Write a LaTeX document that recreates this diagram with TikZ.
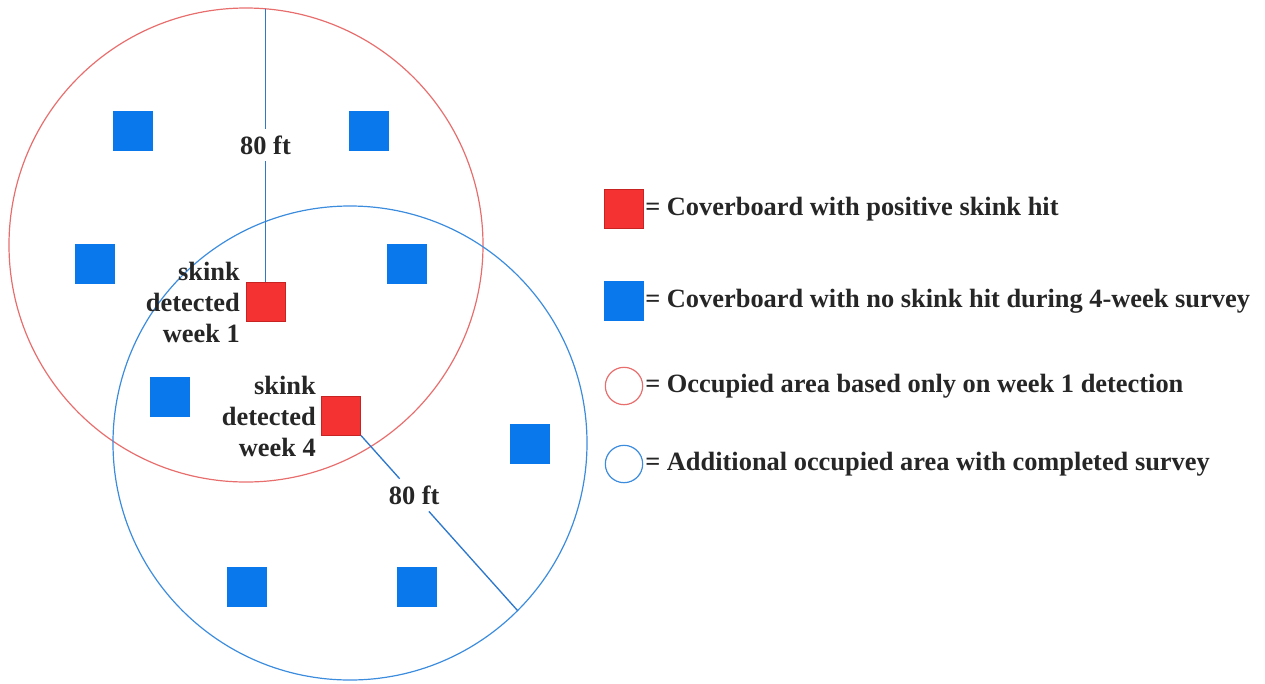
\documentclass[tikz,border=0pt]{standalone}
\usepackage{fontspec}
\setmainfont{Liberation Serif}[BoldFont={Liberation Serif Bold}]
\newfontfamily\lserifbf{Liberation Serif Bold}
\usetikzlibrary{calc}
\definecolor{bsqc}{RGB}{8,120,236}
\definecolor{rsqc}{RGB}{245,50,50}
\definecolor{rsqd}{RGB}{200,35,35}
\definecolor{rcirc}{RGB}{232,110,110}
\definecolor{bcirc}{RGB}{60,140,222}
\definecolor{radc}{RGB}{45,120,205}
\tikzset{
  bsq/.style={rectangle,fill=bsqc,draw=bsqc,line width=0.4pt,minimum size=29.25pt,inner sep=0pt},
  rsq/.style={rectangle,fill=rsqc,draw=rsqd,line width=0.75pt,minimum size=29.25pt,inner sep=0pt},
  redring/.style={draw=rcirc,line width=0.9pt},
  bluering/.style={draw=bcirc,line width=0.9pt},
  radline/.style={draw=radc,line width=1pt},
  lbl/.style={font=\lserifbf\fontsize{19.8pt}{23.25pt}\selectfont,text=black!85},
  rlbl/.style={lbl,align=right,anchor=east,inner sep=0pt},
  dist/.style={lbl,inner sep=5pt},
  legtxt/.style={lbl,anchor=west,inner sep=0pt}
}
\begin{document}
\begin{tikzpicture}[x=0.75pt,y=-0.75pt]
\useasboundingbox (0,0) rectangle (1265,683);
% circles
\coordinate (Rc) at (246,245);
\coordinate (Bc) at (350,443);
\draw[redring] (Rc) circle[radius=177.75pt];
\draw[bluering] (Bc) circle[radius=177.75pt];
% coverboards
\node[bsq] (b1) at (132.5,131) {};
\node[bsq] (b2) at (369,131) {};
\node[bsq] (b3) at (95,264) {};
\node[bsq] (b4) at (407,264) {};
\node[bsq] (b5) at (170,396.5) {};
\node[bsq] (b6) at (530,443.5) {};
\node[bsq] (b7) at (246.5,586.5) {};
\node[bsq] (b8) at (417,586.5) {};
\node[rsq] (r1) at (265.5,302) {};
\node[rsq] (r2) at (341,415.5) {};
% radius lines
\coordinate (topR) at (265.5,8.8);
\node[dist] (d1) at (265.5,145) {80 ft};
\draw[radline] (r1.north) -- (d1.south);
\draw[radline] (d1.north) -- (topR);
\coordinate (endB) at ($(Bc)+(167.6,167.6)$);
\node[dist] (d2) at ($(r2.south east)!0.34!(endB)$) {80 ft};
\draw[radline] (r2.south east) -- (d2);
\draw[radline] (d2) -- (endB);
% labels
\node[rlbl] (t1) at (240,302) {skink\\detected\\week 1};
\node[rlbl] (t2) at (316,416) {skink\\detected\\week 4};
% legend
\node[rsq] (lr) at (624,209) {};
\node[legtxt] (l1) at (645,209) {= Coverboard with positive skink hit};
\node[bsq] (lb) at (624,301) {};
\node[legtxt] (l2) at (645,301) {= Coverboard with no skink hit during 4-week survey};
\node[circle,redring,minimum size=28pt,inner sep=0pt] (lc1) at (624,386) {};
\node[legtxt] (l3) at (645,386) {= Occupied area based only on week 1 detection};
\node[circle,bluering,minimum size=28pt,inner sep=0pt] (lc2) at (624,464) {};
\node[legtxt] (l4) at (645,464) {= Additional occupied area with completed survey};
\end{tikzpicture}
\end{document}
